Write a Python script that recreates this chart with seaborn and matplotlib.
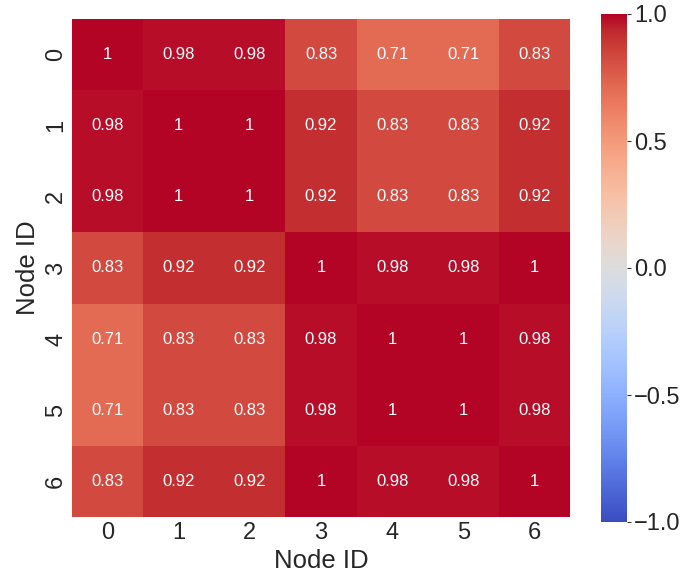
import numpy as np
import pandas as pd
import seaborn as sns
import matplotlib
matplotlib.use("Agg")
import matplotlib.pyplot as plt

sns.set_theme(style="white")
plt.rcParams['font.family'] = ['Liberation Sans', 'DejaVu Sans']

nodes = [0, 1, 2, 3, 4, 5, 6]
row0 = [1, 0.98, 0.98, 0.83, 0.71, 0.71, 0.83]
row1 = [0.98, 1, 1, 0.92, 0.83, 0.83, 0.92]
row2 = [0.98, 1, 1, 0.92, 0.83, 0.83, 0.92]
row3 = [0.83, 0.92, 0.92, 1, 0.98, 0.98, 1]
row4 = [0.71, 0.83, 0.83, 0.98, 1, 1, 0.98]
row5 = [0.71, 0.83, 0.83, 0.98, 1, 1, 0.98]
row6 = [0.83, 0.92, 0.92, 1, 0.98, 0.98, 1]

df = pd.DataFrame([row0, row1, row2, row3, row4, row5, row6], index=nodes, columns=nodes)

fig = plt.figure(figsize=(6.82, 5.76), dpi=100)
ax = fig.add_axes([72/682, (576-517)/576, 498/682, 498/576])
cax = fig.add_axes([601/682, (576-522)/576, 26/682, 508/576])

sns.heatmap(df, ax=ax, cbar_ax=cax, cmap="coolwarm", vmin=-1, vmax=1,
            annot=True, annot_kws={"size": 12, "color": "white"})

ax.set_xlabel("Node ID", fontsize=18.5)
ax.set_ylabel("Node ID", fontsize=18.5)
ax.tick_params(axis='both', labelsize=17, length=0)
ax.set_yticklabels(ax.get_yticklabels(), rotation=90, va='center')
ax.set_xticklabels(ax.get_xticklabels(), rotation=0)

cax.tick_params(labelsize=17, length=3, width=0.8, color='#333333', pad=2)
cax.set_yticks([-1.0, -0.5, 0.0, 0.5, 1.0])
cax.set_yticklabels(["\u22121.0", "\u22120.5", "0.0", "0.5", "1.0"])

fig.savefig("out.png", dpi=100)
